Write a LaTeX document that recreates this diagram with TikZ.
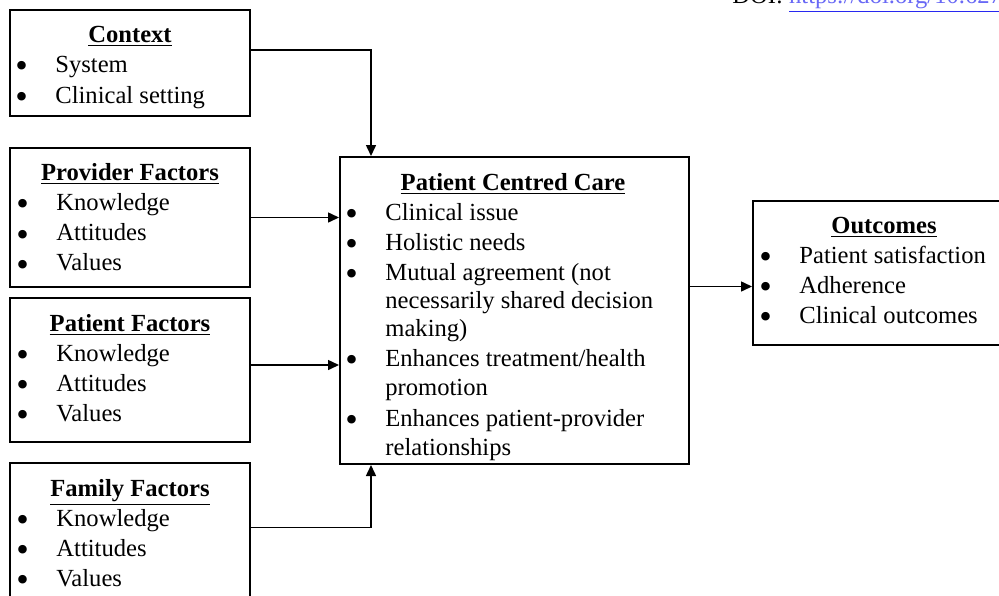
\documentclass[tikz,border=0pt]{standalone}
\usepackage{fontspec}
\setmainfont{Liberation Serif}
\usepackage{graphicx}
\usepackage{tikz}
\usetikzlibrary{arrows.meta}

\newcommand{\body}{\fontsize{12.3}{15}\selectfont}
\newcommand{\itm}[1]{\makebox[18.5pt][l]{\hspace*{-1.5pt}\smash{\raisebox{-0.22em}{\scalebox{1.45}{\textbullet}}}}#1}
\definecolor{linkblue}{RGB}{40,40,240}

\begin{document}
\begin{tikzpicture}[x=0.5pt,y=-0.5pt]
	\tikzstyle{box}=[draw,line width=1pt,inner sep=0pt]
	\tikzstyle{head}=[anchor=base,inner sep=0pt,font=\body\bfseries]
	\tikzstyle{item}=[anchor=base west,inner sep=0pt,font=\body]
	\tikzstyle{conn}=[line width=0.75pt,-{Triangle[length=5.5pt,width=5pt]}]
	
	\useasboundingbox (0,0) rectangle (999,595);
	
	\node[item] (doi) at (732,3){DOI: {\color{linkblue}\underline{\textcolor{linkblue!70}{https://doi.org/10.62734/}}}};
	
	% left column
	\node[box,minimum width=120pt,minimum height=53pt](ctx) at (130,63){};
	\node[head](ctx-h) at (130,42){\underline{Context}};
	\node[item](ctx-1) at (18,72){\itm{System}};
	\node[item](ctx-2) at (18,103){\itm{Clinical setting}};
	
	\node[box,minimum width=120pt,minimum height=69.5pt](prov) at (130,217.5){};
	\node[head](prov-h) at (130,180){\underline{Provider Factors}};
	\foreach \t [count=\i] in {Knowledge,Attitudes,Values}
		\node[item](prov-\i) at (19,{180+30.3*\i}){\itm{\t}};
	
	\node[box,minimum width=120pt,minimum height=72pt](pat) at (130,370){};
	\node[head](pat-h) at (130,331){\underline{Patient Factors}};
	\foreach \t [count=\i] in {Knowledge,Attitudes,Values}
		\node[item](pat-\i) at (19,{331+30*\i}){\itm{\t}};
	
	\node[box,minimum width=120pt,minimum height=68.5pt](fam) at (130,531.5){};
	\node[head](fam-h) at (130,496){\underline{Family Factors}};
	\foreach \t [count=\i] in {Knowledge,Attitudes,Values}
		\node[item](fam-\i) at (19,{496+30*\i}){\itm{\t}};
	
	% centre
	\node[box,minimum width=174.5pt,minimum height=153.5pt](pcc) at (514.5,310.5){};
	\node[head](pcc-h) at (513,190){\underline{Patient Centred Care}};
	\node[item](pcc-1) at (348,220){\itm{Clinical issue}};
	\node[item](pcc-2) at (348,250){\itm{Holistic needs}};
	\node[item](pcc-3) at (348,280){\itm{Mutual agreement (not}};
	\node[item](pcc-3b) at (385,308){necessarily shared decision};
	\node[item](pcc-3c) at (385,336){making)};
	\node[item](pcc-4) at (348,366){\itm{Enhances treatment/health}};
	\node[item](pcc-4b) at (385,395){promotion};
	\node[item](pcc-5) at (348,426){\itm{Enhances patient-provider}};
	\node[item](pcc-5b) at (385,455){relationships};
	
	% right
	\node[box,minimum width=125pt,minimum height=72pt](out) at (878,273){};
	\node[head](out-h) at (884,233){\underline{Outcomes}};
	\node[item](out-1) at (762,263){\itm{Patient satisfaction}};
	\node[item](out-2) at (762,293){\itm{Adherence}};
	\node[item](out-3) at (762,323){\itm{Clinical outcomes}};
	
	\draw[conn] ([yshift=6.5pt]ctx.east) -| ([xshift=16pt]pcc.north west);
	\draw[conn] (prov.east) -- (prov.east -| pcc.west);
	\draw[conn] ([yshift=2.5pt]pat.east) -- ([yshift=2.5pt]pat.east -| pcc.west);
	\draw[conn] ([yshift=2pt]fam.east) -| ([xshift=16pt]pcc.south west);
	\draw[conn] ([yshift=12pt]pcc.east) -- ([yshift=12pt]pcc.east -| out.west);
	
\end{tikzpicture}
\end{document}
